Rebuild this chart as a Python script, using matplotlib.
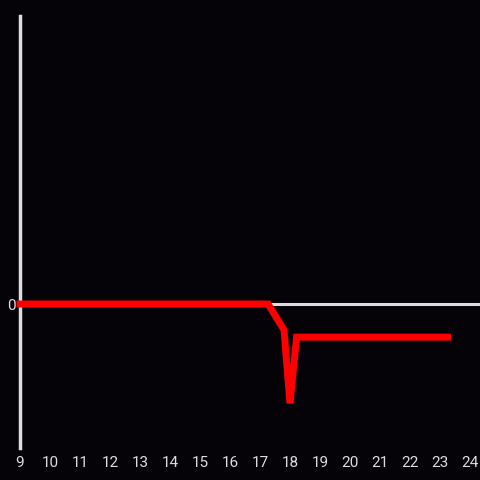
import matplotlib
matplotlib.use('Agg')
import matplotlib.pyplot as plt

# Dados
horas = [9, 17.27, 17.8, 18.0, 18.22, 23.25]
valores = [0, 0, -0.18, -0.69, -0.23, -0.23]
ticks_x = list(range(9, 25))

plt.rcParams['font.family'] = ['Roboto', 'DejaVu Sans']

fundo = '#050307'
fig = plt.figure(figsize=(4.8, 4.8), dpi=100, facecolor=fundo)
ax = fig.add_axes([20 / 480, 32 / 480, 460 / 480, 432 / 480], facecolor=fundo)

ax.axhline(0, color='#dddddd', linewidth=2.2, zorder=1)
ax.plot(horas, valores, color='#ff0000', linewidth=5, solid_joinstyle='miter',
        zorder=3, clip_on=False)

ax.set_xlim(9, 9 + 460 / 30)
ax.set_ylim(-1, 2)

for lado in ['top', 'right', 'bottom']:
    ax.spines[lado].set_visible(False)
ax.spines['left'].set_color('#dddddd')
ax.spines['left'].set_linewidth(2.5)

ax.set_xticks(ticks_x)
ax.set_xticklabels([str(t) for t in ticks_x])
ax.set_yticks([0])
ax.set_yticklabels(['0'])
ax.tick_params(axis='both', length=0, colors='#dddddd', labelsize=11)
ax.tick_params(axis='x', pad=6)
ax.tick_params(axis='y', pad=3)

fig.savefig('out.png', dpi=100, facecolor=fundo)
